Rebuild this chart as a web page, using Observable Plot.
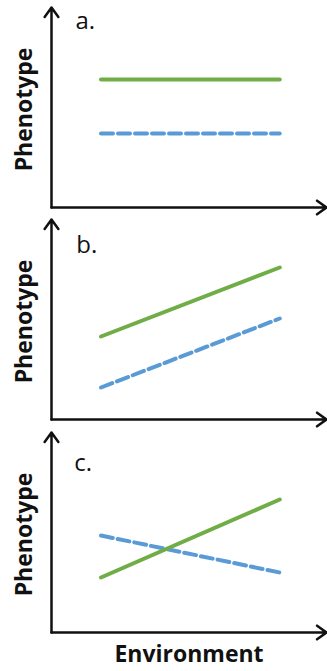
<!DOCTYPE html>
<html><head><meta charset="utf-8">
<script src="https://cdn.jsdelivr.net/npm/d3@7"></script>
<script src="https://cdn.jsdelivr.net/npm/@observablehq/plot@0.6"></script>
<style>body{margin:0;background:#fff}#chart svg{display:block}</style>
</head><body><div id="chart"></div>
<script>
// ---- data ----
const panelLabels = ["a.", "b.", "c."];
const environment = [18, 83];               // start / end of the environment range
const greenValues = [[64, 64], [41.5, 76], [27.5, 66.5]];
const blueValues  = [[37, 37], [16, 50.5], [48.5, 30]];
const yLabel = "Phenotype";
const xLabel = "Environment";
const xDomain = [0, 100];
const yDomain = [0, 100];
// annotation anchors (data units) for the panel letters and the axis title
const letterX = [8.7, 9, 8.3];
const letterY = [89.5, 83.5, 81];
const yLabelAt = {x: -9.8, y: 49};

// ---- layout ----
const heights = [212, 213, 246];
const bottoms = [5, 6, 39];
const green = "#70ad47", blue = "#5b9bd5", ink = "#111";

const chart = document.getElementById("chart");
panelLabels.forEach((lab, i) => {
  const rows = [];
  environment.forEach((e, j) => {
    rows.push({series: "G", env: e, ph: greenValues[i][j]});
    rows.push({series: "B", env: e, ph: blueValues[i][j]});
  });
  const axes = [
    {x1: xDomain[0], y1: yDomain[0], x2: xDomain[0], y2: yDomain[1]},
    {x1: xDomain[0], y1: yDomain[0], x2: xDomain[1], y2: yDomain[0]}
  ];
  const marks = [
    Plot.arrow(axes, {x1: "x1", y1: "y1", x2: "x2", y2: "y2", stroke: ink, strokeWidth: 2.5, headAngle: 72, headLength: 7}),
    Plot.line(rows.filter(d => d.series === "B"), {x: "env", y: "ph", stroke: blue, strokeWidth: 4, strokeDasharray: "12,5"}),
    Plot.line(rows.filter(d => d.series === "G"), {x: "env", y: "ph", stroke: green, strokeWidth: 4}),
    Plot.text([lab], {x: letterX[i], y: letterY[i], text: d => d, textAnchor: "start", lineAnchor: "bottom", fontSize: 24, fill: ink}),
    Plot.text([yLabel], {x: yLabelAt.x, y: yLabelAt.y, text: d => d, rotate: -90, fontSize: 23, fontWeight: "bold", fill: ink})
  ];
  if (i === panelLabels.length - 1) {
    marks.push(Plot.text([xLabel], {frameAnchor: "bottom", text: d => d, dy: 29, fontSize: 23, fontWeight: "bold", fill: ink}));
  }
  const p = Plot.plot({
    width: 327,
    height: heights[i],
    marginLeft: 51,
    marginRight: 1,
    marginTop: 7,
    marginBottom: bottoms[i],
    x: {domain: xDomain, axis: null},
    y: {domain: yDomain, axis: null},
    style: {fontFamily: "'Open Sans', sans-serif", background: "white", overflow: "visible"},
    marks
  });
  chart.appendChild(p);
});
</script>
</body></html>
